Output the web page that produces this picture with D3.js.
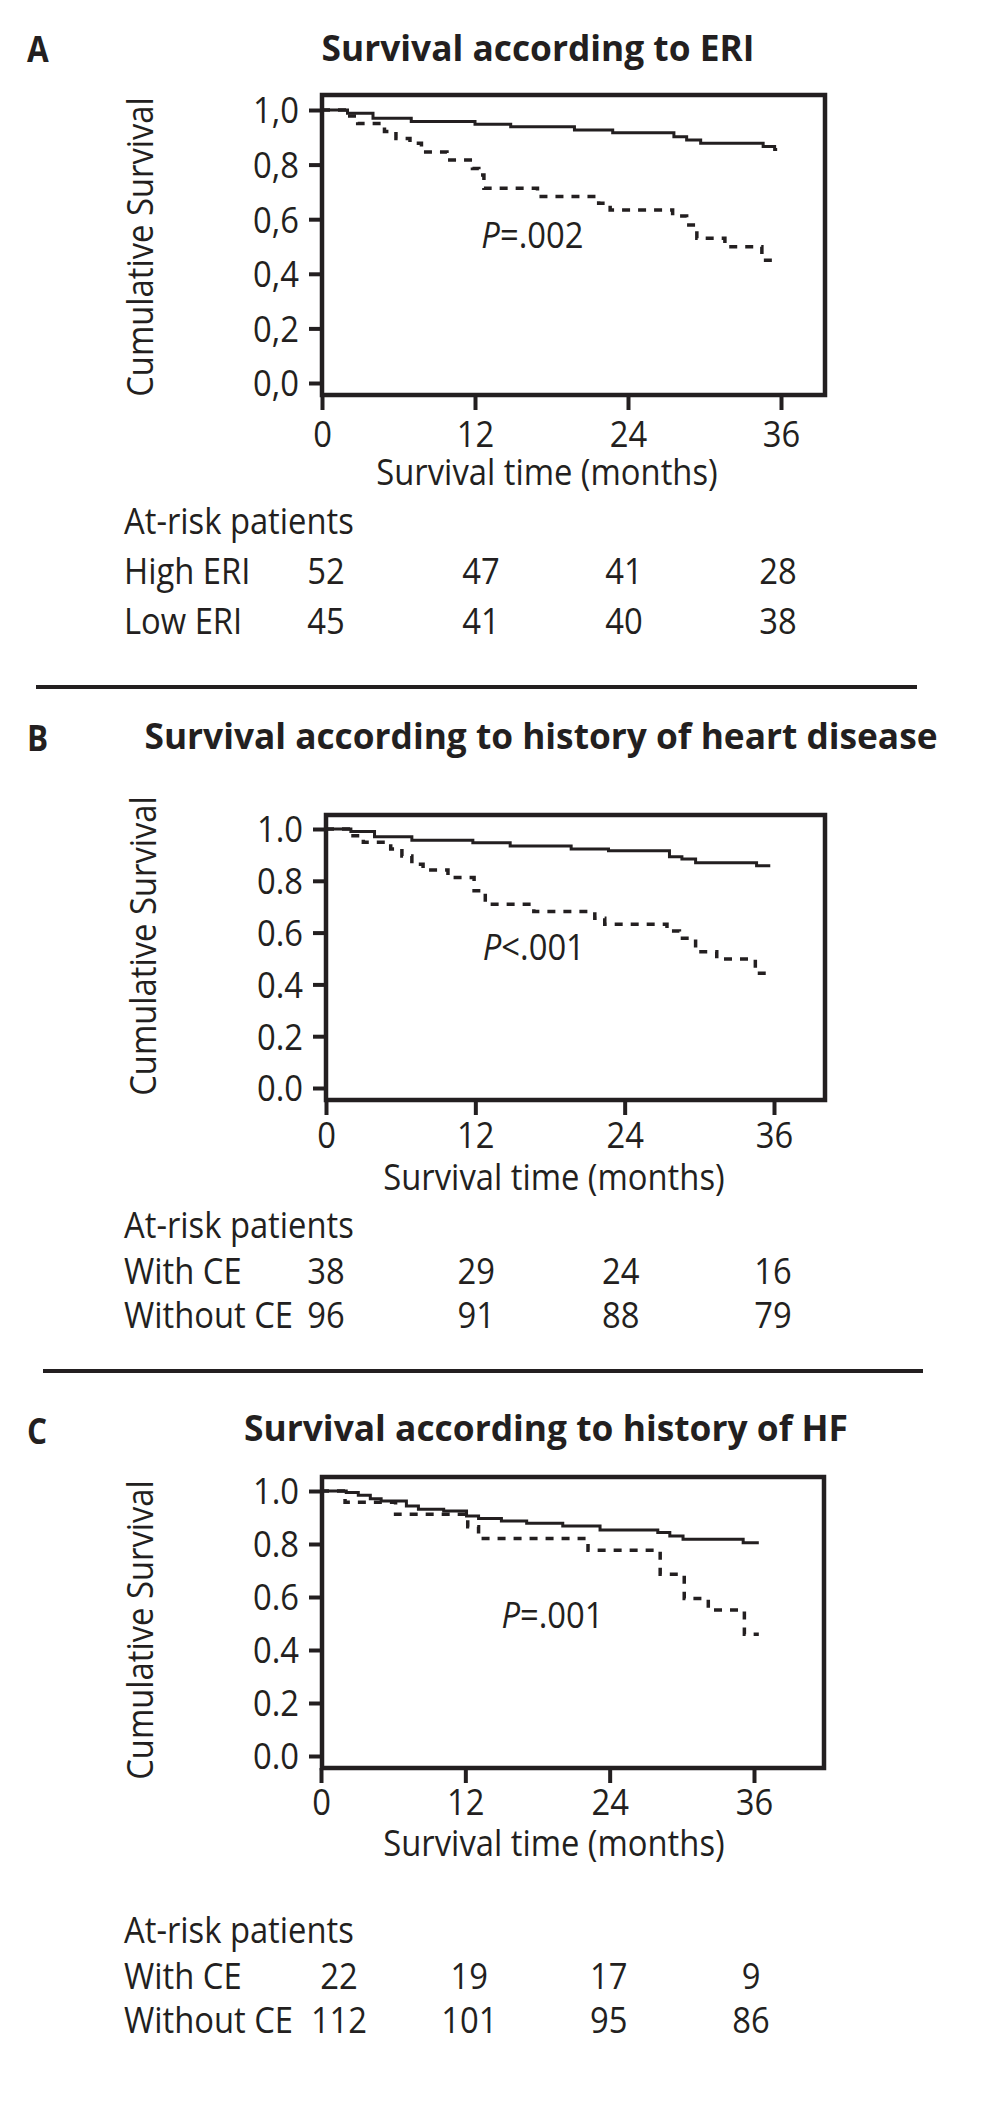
<!DOCTYPE html>
<html><head><meta charset="utf-8">
<script src="https://cdn.jsdelivr.net/npm/d3@7/dist/d3.min.js"></script>
<style>
body{margin:0;background:#fff}
text{font-family:"Open Sans","DejaVu Sans",sans-serif;fill:#231f20}
</style>
</head><body>
<svg id="chart" width="1001" height="2127"></svg>
<script>
// ---------- shared ----------
const monthTicks = [0, 12, 24, 36];
const survTicks = [0, 0.2, 0.4, 0.6, 0.8, 1.0];
const xAxisTitle = "Survival time (months)";
const yAxisTitle = "Cumulative Survival";
const riskHeader = "At-risk patients";

// ---------- Panel A ----------
const aLetter = "A";
const aTitle = "Survival according to ERI";
const aTickLabels = ["0,0", "0,2", "0,4", "0,6", "0,8", "1,0"];
const aPText = "=.002";
const aSolidTime = [0, 2.0, 4.0, 7.0, 12.0, 14.8, 19.8, 22.8, 27.6, 28.6, 29.7, 34.6, 35.5, 35.7];
const aSolidSurv = [1.0, 0.988, 0.970, 0.958, 0.948, 0.939, 0.927, 0.917, 0.902, 0.890, 0.878, 0.866, 0.855, 0.855];
const aDashTime = [0, 2.0, 2.8, 4.9, 5.8, 6.9, 7.8, 9.8, 11.8, 12.3, 12.7, 16.9, 21.7, 22.6, 27.5, 28.6, 29.4, 31.6, 34.5, 35.7];
const aDashSurv = [1.0, 0.978, 0.951, 0.921, 0.896, 0.878, 0.846, 0.817, 0.786, 0.762, 0.713, 0.683, 0.658, 0.634, 0.612, 0.579, 0.530, 0.499, 0.450, 0.450];
const aGroups = ["High ERI", "Low ERI"];
const aRiskHigh = [52, 47, 41, 28];
const aRiskLow = [45, 41, 40, 38];

// ---------- Panel B ----------
const bLetter = "B";
const bTitle = "Survival according to history of heart disease";
const bTickLabels = ["0.0", "0.2", "0.4", "0.6", "0.8", "1.0"];
const bPText = "<.001";
const bSolidTime = [0, 2.0, 3.9, 6.9, 11.8, 14.8, 19.7, 22.7, 27.6, 28.6, 29.7, 34.6, 35.7];
const bSolidSurv = [1.0, 0.990, 0.970, 0.957, 0.947, 0.934, 0.923, 0.916, 0.893, 0.884, 0.870, 0.858, 0.858];
const bDashTime = [0, 2.0, 3.0, 5.2, 6.1, 6.9, 7.8, 9.8, 11.9, 12.8, 16.7, 21.6, 22.4, 27.4, 28.4, 29.7, 31.4, 34.5, 35.7];
const bDashSurv = [1.0, 0.974, 0.949, 0.923, 0.896, 0.864, 0.842, 0.813, 0.762, 0.709, 0.681, 0.655, 0.632, 0.606, 0.578, 0.526, 0.498, 0.443, 0.443];
const bGroups = ["With CE", "Without CE"];
const bRiskWith = [38, 29, 24, 16];
const bRiskWithout = [96, 91, 88, 79];

// ---------- Panel C ----------
const cLetter = "C";
const cTitle = "Survival according to history of HF";
const cTickLabels = ["0.0", "0.2", "0.4", "0.6", "0.8", "1.0"];
const cPText = "=.001";
const cSolidTime = [0, 2.1, 3.1, 4.1, 5.0, 7.1, 8.1, 10.2, 12.1, 13.1, 15.0, 17.1, 20.1, 23.2, 28.0, 29.0, 30.1, 35.1, 36.4];
const cSolidSurv = [1.0, 0.994, 0.984, 0.971, 0.962, 0.943, 0.931, 0.925, 0.906, 0.896, 0.887, 0.878, 0.868, 0.853, 0.843, 0.830, 0.818, 0.805, 0.805];
const cDashTime = [0, 2.0, 6.2, 12.2, 13.1, 22.2, 28.2, 30.2, 32.2, 35.2, 36.4];
const cDashSurv = [1.0, 0.958, 0.912, 0.865, 0.821, 0.776, 0.686, 0.594, 0.551, 0.459, 0.459];
const cGroups = ["With CE", "Without CE"];
const cRiskWith = [22, 19, 17, 9];
const cRiskWithout = [112, 101, 95, 86];

// ---------- layout (positions / styles only) ----------
const INK = "#231f20";
const FS = 36;      // body font size
const SX = 0.91;    // horizontal condensing of body text
const panels = [
  {
    letter: aLetter, title: aTitle, titleW: 433, titleX: 538, titleY: 61, letterY: 62,
    tickLabels: aTickLabels, pText: aPText, pAt: [12.5, 0.494],
    solid: aSolidTime.map((t, i) => ({t, s: aSolidSurv[i]})),
    dash: aDashTime.map((t, i) => ({t, s: aDashSurv[i]})),
    groups: aGroups, risk: [aRiskHigh, aRiskLow], riskShift: [4, 6, -4, -3],
    box: {l: 322, r: 825, t: 95, b: 395}, xr: [322, 781], yr: [383, 110],
    xLabelDrop: 52, yTitleX: 153, yTitleY: 247, xTitleY: 485, xTitleX: 547,
    headY: 534, rowY: [584, 634]
  },
  {
    letter: bLetter, title: bTitle, titleW: 793, titleX: 541, titleY: 749, letterY: 751,
    tickLabels: bTickLabels, pText: bPText, pAt: [12.6, 0.494],
    solid: bSolidTime.map((t, i) => ({t, s: bSolidSurv[i]})),
    dash: bDashTime.map((t, i) => ({t, s: bDashSurv[i]})),
    groups: bGroups, risk: [bRiskWith, bRiskWithout], riskShift: [0, 1, -4, -1],
    box: {l: 326, r: 825, t: 815, b: 1100}, xr: [326, 774], yr: [1088, 829],
    xLabelDrop: 48, yTitleX: 156, yTitleY: 946, xTitleY: 1190, xTitleX: 554,
    headY: 1238, rowY: [1284, 1328]
  },
  {
    letter: cLetter, title: cTitle, titleW: 604, titleX: 546, titleY: 1441, letterY: 1444,
    tickLabels: cTickLabels, pText: cPText, pAt: [15.0, 0.483],
    solid: cSolidTime.map((t, i) => ({t, s: cSolidSurv[i]})),
    dash: cDashTime.map((t, i) => ({t, s: cDashSurv[i]})),
    groups: cGroups, risk: [cRiskWith, cRiskWithout], riskShift: [18, 4, -1, -3],
    box: {l: 322, r: 824, t: 1477, b: 1768}, xr: [321, 754], yr: [1756, 1491],
    xLabelDrop: 47, yTitleX: 153, yTitleY: 1630, xTitleY: 1856, xTitleX: 554,
    headY: 1943, rowY: [1989, 2033]
  }
];
const separators = [{x1: 36, x2: 917, y: 687}, {x1: 43, x2: 923, y: 1371}];

// condense a text element horizontally about its anchor point
function condense(sel, sx) {
  sel.each(function () {
    const t = d3.select(this);
    const x = +t.attr("x") || 0, y = +t.attr("y") || 0;
    t.attr("transform", `translate(${x},${y}) scale(${sx},1) translate(${-x},${-y})`);
  });
}

const svg = d3.select("#chart");
svg.append("rect").attr("width", 1001).attr("height", 2127).attr("fill", "#fff");

separators.forEach(s => svg.append("line")
  .attr("x1", s.x1).attr("x2", s.x2).attr("y1", s.y).attr("y2", s.y)
  .attr("stroke", INK).attr("stroke-width", 4));

panels.forEach(p => {
  const g = svg.append("g");
  const x = d3.scaleLinear().domain([0, 36]).range(p.xr);
  const y = d3.scaleLinear().domain([0, 1]).range(p.yr);

  // letter + title
  g.append("text").attr("x", 27).attr("y", p.letterY)
    .attr("font-size", 35).attr("font-weight", 700).text(p.letter)
    .call(condense, 0.9);
  g.append("text").attr("x", p.titleX).attr("y", p.titleY)
    .attr("text-anchor", "middle").attr("font-size", 35).attr("font-weight", 700)
    .attr("textLength", p.titleW).attr("lengthAdjust", "spacingAndGlyphs")
    .text(p.title);

  // y axis
  const yAx = g.append("g").attr("transform", `translate(${p.box.l},0)`)
    .call(d3.axisLeft(y).tickValues(survTicks).tickSize(13).tickPadding(10)
      .tickFormat((d, i) => p.tickLabels[i]));
  yAx.select(".domain").remove();
  yAx.selectAll("line").attr("stroke", INK).attr("stroke-width", 4);
  yAx.selectAll("text").attr("font-size", FS).attr("font-family", null).attr("fill", INK)
    .attr("dy", "0.36em").call(condense, SX);

  // x axis
  const xAx = g.append("g").attr("transform", `translate(0,${p.box.b})`)
    .call(d3.axisBottom(x).tickValues(monthTicks).tickSize(15).tickPadding(14));
  xAx.select(".domain").remove();
  xAx.selectAll("line").attr("stroke", INK).attr("stroke-width", 4);
  xAx.selectAll("text").attr("font-size", FS).attr("font-family", null).attr("fill", INK)
    .attr("dy", null).attr("y", p.xLabelDrop).call(condense, SX);

  // frame
  g.append("rect").attr("x", p.box.l).attr("y", p.box.t)
    .attr("width", p.box.r - p.box.l).attr("height", p.box.b - p.box.t)
    .attr("fill", "none").attr("stroke", INK).attr("stroke-width", 4.5);

  // curves
  const line = d3.line().x(d => x(d.t)).y(d => y(d.s)).curve(d3.curveStepAfter);
  g.append("path").attr("d", line(p.solid)).attr("fill", "none")
    .attr("stroke", INK).attr("stroke-width", 3);
  g.append("path").attr("d", line(p.dash)).attr("fill", "none")
    .attr("stroke", INK).attr("stroke-width", 3.5).attr("stroke-dasharray", "8 8");

  // P value
  const pt = g.append("text").attr("x", x(p.pAt[0])).attr("y", y(p.pAt[1]))
    .attr("font-size", FS);
  pt.append("tspan").attr("font-style", "italic").text("P");
  pt.append("tspan").text(p.pText);
  pt.call(condense, SX);

  // axis titles
  g.append("text").attr("transform", `translate(${p.yTitleX},${p.yTitleY}) rotate(-90) scale(${SX},1)`)
    .attr("text-anchor", "middle").attr("font-size", FS).text(yAxisTitle);
  g.append("text").attr("x", p.xTitleX).attr("y", p.xTitleY)
    .attr("text-anchor", "middle").attr("font-size", FS).text(xAxisTitle)
    .call(condense, SX);

  // at-risk table
  g.append("text").attr("x", 124).attr("y", p.headY).attr("font-size", FS).text(riskHeader)
    .call(condense, SX);
  p.groups.forEach((name, gi) => {
    g.append("text").attr("x", 124).attr("y", p.rowY[gi]).attr("font-size", FS).text(name)
      .call(condense, SX);
    p.risk[gi].forEach((v, j) => {
      g.append("text").attr("x", x(monthTicks[j]) + p.riskShift[j]).attr("y", p.rowY[gi])
        .attr("text-anchor", "middle").attr("font-size", FS).text(v)
        .call(condense, SX);
    });
  });
});
</script>
</body></html>
